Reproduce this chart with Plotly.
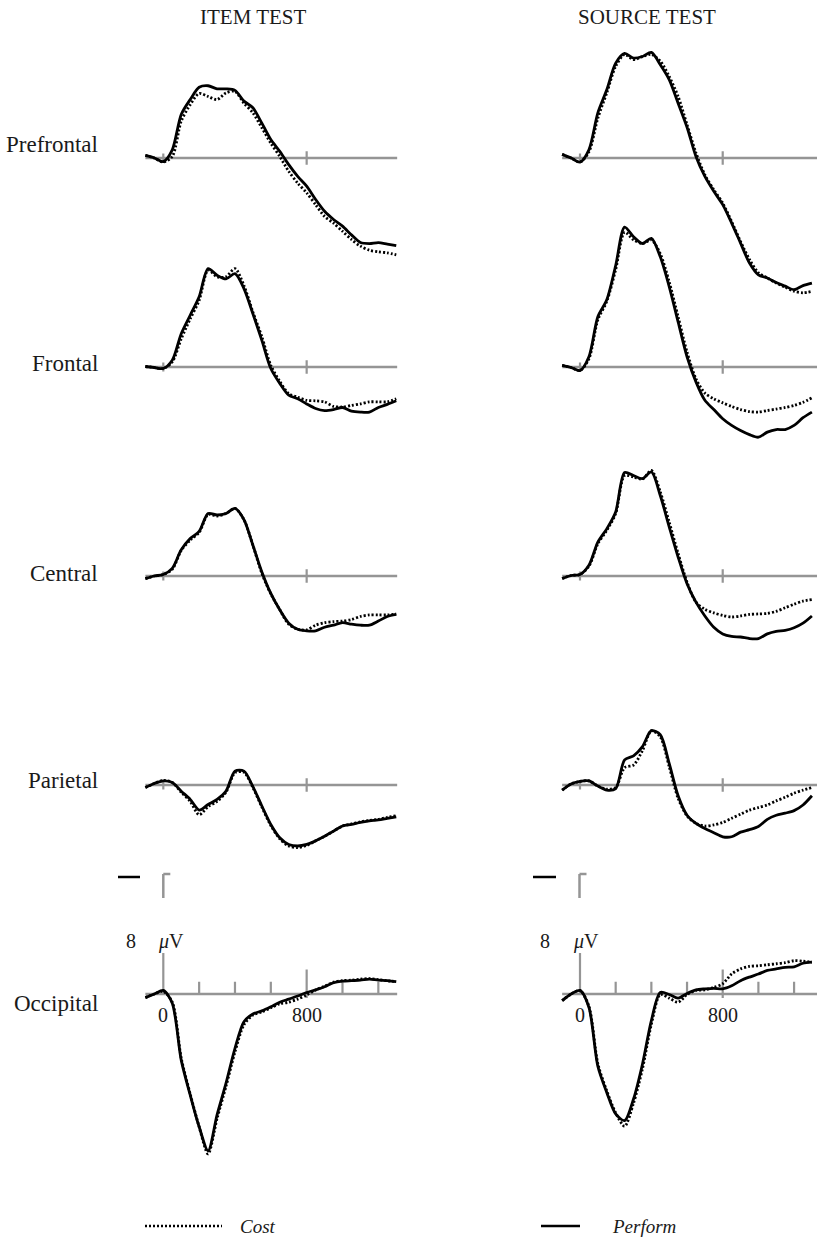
import plotly.graph_objects as go

W, H = 817, 1243

# ---------------- data (µV) ----------------
times = list(range(-100, 1301, 50))  # ms

item_prefrontal_cost = [0.5, 0, -0.8, 0.3, 7.2, 10.4, 12.6, 12.0, 11.4, 12.7, 13.0, 10.7, 8.8, 5.9, 2.9, 0.3,
                        -2.6, -4.9, -6.8, -9.1, -11.4, -12.7, -14.3, -15.9, -17.2, -18.0, -18.3, -18.5, -18.9]
item_prefrontal_perform = [0.5, 0, -0.7, 1.6, 8.5, 11.4, 13.8, 14.1, 13.5, 13.5, 13.2, 11.1, 9.8, 6.8, 3.6, 1.3,
                           -1.3, -3.6, -5.5, -8.1, -10.4, -12.0, -13.3, -15.0, -16.5, -16.7, -16.5, -16.8, -17.1]
item_frontal_cost = [0.1, -0.1, -0.3, 1.0, 5.5, 9.4, 13.0, 18.9, 17.6, 17.6, 19.2, 15.9, 10.7, 5.9, 0.3, -2.8,
                     -5.2, -5.9, -6.5, -6.6, -6.8, -7.7, -7.8, -7.5, -7.2, -6.8, -6.8, -6.8, -6.2]
item_frontal_perform = [0.1, -0.1, -0.3, 1.3, 6.5, 10.1, 13.7, 19.2, 17.9, 17.2, 18.2, 15.3, 10.4, 5.2, -0.3, -3.2,
                        -5.5, -6.2, -7.2, -8.1, -8.5, -8.3, -7.9, -8.6, -8.8, -8.8, -7.9, -7.3, -6.6]
item_central_cost = [-0.5, 0, 0.3, 1.3, 5.0, 7.0, 8.5, 12.0, 11.7, 12.2, 13.2, 11.0, 6.0, 0.5, -3.5, -6.6,
                     -9.4, -10.4, -10.5, -9.6, -9.1, -8.9, -8.8, -8.5, -7.9, -7.6, -7.6, -7.6, -7.4]
item_central_perform = [-0.5, 0, 0.3, 1.5, 5.1, 7.3, 8.7, 12.2, 11.9, 12.2, 13.2, 11.0, 6.0, 0.8, -3.4, -6.6,
                        -9.2, -10.4, -10.7, -10.7, -10.0, -9.6, -9.1, -9.4, -9.6, -9.6, -8.8, -7.9, -7.5]
item_parietal_cost = [-0.5, 0.3, 0.9, 0.5, -1.4, -3.2, -5.8, -4.2, -3.2, -1.4, 2.4, 2.5, -0.5, -4.3, -7.9, -10.5,
                      -11.9, -12.2, -11.8, -10.9, -10.0, -9.0, -8.0, -7.6, -7.2, -6.9, -6.7, -6.3, -6.0]
item_parietal_perform = [-0.5, 0.3, 0.8, 0.5, -1.2, -2.8, -4.9, -3.8, -2.8, -1.2, 2.7, 2.7, -0.3, -4.1, -7.7, -10.3,
                         -11.6, -11.9, -11.6, -10.9, -10.0, -9.0, -8.0, -7.7, -7.3, -7.0, -6.8, -6.5, -6.2]
item_occipital_cost = [-0.7, 0, 0.5, -1.6, -12.5, -19.5, -25.9, -31.2, -24.3, -18.0, -11.3, -6.0, -4.1, -3.5, -2.7, -1.9,
                       -1.6, -1.0, -0.2, 0.8, 1.5, 2.3, 2.6, 2.7, 2.9, 3.0, 2.8, 2.6, 2.4]
item_occipital_perform = [-0.7, 0, 0.7, -1.8, -12.9, -19.7, -25.9, -30.6, -23.6, -17.4, -10.6, -5.4, -3.9, -3.3, -2.5, -1.6,
                          -1.0, -0.4, 0.3, 0.8, 1.4, 2.2, 2.5, 2.6, 2.7, 2.9, 2.7, 2.6, 2.4]

source_prefrontal_cost = [0.7, 0, -0.8, 1.2, 7.8, 12.7, 17.9, 20.2, 19.2, 19.8, 20.2, 18.9, 15.9, 12.0, 6.5, 1.0,
                          -3.3, -6.2, -8.8, -12.4, -16.3, -19.8, -22.4, -23.4, -24.4, -25.2, -26.0, -26.3, -26.0]
source_prefrontal_perform = [0.7, 0, -0.8, 1.6, 8.8, 13.3, 18.5, 20.4, 19.5, 19.8, 20.6, 18.2, 15.3, 10.7, 6.0, 0.3,
                             -3.6, -6.5, -9.1, -12.7, -16.6, -20.5, -22.8, -23.4, -24.3, -25.0, -25.7, -24.9, -24.4]
source_frontal_cost = [0.3, -0.1, -0.7, 1.6, 9.2, 12.8, 19.0, 26.3, 24.8, 24.1, 24.8, 22.1, 16.6, 9.8, 2.9, -2.3,
                       -5.1, -6.2, -7.0, -7.7, -8.3, -8.7, -8.8, -8.5, -8.2, -7.9, -7.5, -6.9, -6.0]
source_frontal_perform = [0.3, -0.1, -0.7, 2.0, 9.8, 13.1, 19.8, 27.3, 25.4, 24.1, 25.1, 21.5, 15.7, 8.8, 2.0, -2.9,
                          -6.5, -8.3, -10.1, -11.4, -12.4, -13.2, -13.7, -12.7, -12.2, -12.2, -11.4, -9.9, -8.8]
source_central_cost = [-0.5, 0.1, 0.3, 1.9, 6.3, 8.9, 12.2, 19.6, 19.3, 18.9, 20.6, 16.4, 10.5, 4.4, -1.2, -5.1,
                       -6.5, -7.2, -7.7, -8.0, -7.8, -7.5, -7.4, -7.3, -6.9, -6.2, -5.5, -4.9, -4.6]
source_central_perform = [-0.5, 0.1, 0.3, 2.1, 6.6, 9.2, 12.5, 20.2, 19.6, 19.0, 20.3, 15.7, 9.6, 3.7, -1.5, -5.1,
                          -7.8, -10.0, -11.3, -11.8, -11.9, -12.2, -12.2, -11.3, -10.8, -10.6, -10.1, -9.2, -7.8]
source_parietal_cost = [-1.0, 0.2, 0.7, 0.8, -0.2, -0.8, -0.5, 3.4, 3.9, 6.7, 10.6, 9.4, 3.6, -2.6, -6.0, -7.5,
                        -8.0, -7.8, -7.3, -6.5, -5.7, -4.9, -4.4, -3.9, -3.1, -2.4, -1.6, -1.0, -0.5]
source_parietal_perform = [-1.0, 0.2, 0.7, 0.8, -0.2, -1.0, -0.7, 4.9, 5.7, 7.5, 10.6, 9.8, 4.2, -2.1, -5.9, -7.5,
                           -8.5, -9.3, -10.1, -10.1, -9.2, -8.7, -8.1, -6.7, -5.9, -5.5, -5.0, -3.9, -2.1]
source_occipital_cost = [-1.3, 0, 0.7, -2.4, -13.6, -18.9, -23.2, -25.8, -21.3, -14.6, -5.9, -0.1, -0.8, -1.6, -0.1, 0.7,
                         0.8, 1.3, 2.0, 3.9, 4.9, 5.4, 5.5, 5.7, 5.9, 6.1, 6.5, 6.4, 6.2]
source_occipital_perform = [-1.3, 0, 0.7, -2.6, -14.1, -19.2, -23.4, -24.7, -20.5, -13.7, -5.2, 0.3, -0.1, -0.8, 0.1, 0.8,
                            1.0, 1.1, 1.0, 1.6, 2.6, 3.3, 3.9, 4.6, 4.9, 5.2, 5.3, 6.0, 6.2]

regions = ["Prefrontal", "Frontal", "Central", "Parietal", "Occipital"]
tests = ["ITEM TEST", "SOURCE TEST"]
series_names = ["Cost", "Perform"]
major_ticks = [0, 800]
major_tick_labels = ["0", "800"]
minor_ticks = [200, 400, 600, 1000, 1200]
scale_uv = 8
scale_label = "8"
scale_unit = "<i>μ</i>V"

panel_data = {
    (0, 0): (item_prefrontal_cost, item_prefrontal_perform),
    (0, 1): (item_frontal_cost, item_frontal_perform),
    (0, 2): (item_central_cost, item_central_perform),
    (0, 3): (item_parietal_cost, item_parietal_perform),
    (0, 4): (item_occipital_cost, item_occipital_perform),
    (1, 0): (source_prefrontal_cost, source_prefrontal_perform),
    (1, 1): (source_frontal_cost, source_frontal_perform),
    (1, 2): (source_central_cost, source_central_perform),
    (1, 3): (source_parietal_cost, source_parietal_perform),
    (1, 4): (source_occipital_cost, source_occipital_perform),
}

# ---------------- geometry (pixels) ----------------
col_zero_px = [163.3, 580.0]
col_px_per_ms = [0.1792, 0.1784]
row_base_px = [158, 367, 576, 785, 994]
px_per_uv = 5.125
y_lo, y_hi = -34, 30
t_lo = -150
baseline_end = [1305, 1340]

GRAY = "#959595"
SERIF = "Liberation Serif, Times New Roman, serif"
LW = 2.8


def fx(px):
    return px / W


def fy(px):
    return 1 - px / H


fig = go.Figure()
layout = dict(
    width=W, height=H, margin=dict(l=0, r=0, t=0, b=0),
    paper_bgcolor="white", plot_bgcolor="rgba(0,0,0,0)",
    showlegend=False,
)
shapes = []
annotations = []

idx = 0
for c in range(2):
    z, k = col_zero_px[c], col_px_per_ms[c]
    x0px = z + t_lo * k
    if c == 0:
        t_hi = 1350
        x1px = z + t_hi * k
    else:
        x1px = W
        t_hi = (W - z) / k
    for r in range(5):
        idx += 1
        sfx = "" if idx == 1 else str(idx)
        base = row_base_px[r]
        top_px = base - y_hi * px_per_uv
        bot_px = base - y_lo * px_per_uv
        layout["xaxis" + sfx] = dict(domain=[fx(x0px), min(1.0, fx(x1px))], range=[t_lo, t_hi],
                                     visible=False, anchor="y" + sfx, fixedrange=True)
        layout["yaxis" + sfx] = dict(domain=[fy(bot_px), fy(top_px)], range=[y_lo, y_hi],
                                     visible=False, anchor="x" + sfx, fixedrange=True)
        xr, yr = "x" + sfx, "y" + sfx

        # baseline
        shapes.append(dict(type="line", xref=xr, yref=yr, x0=times[0], x1=baseline_end[c], y0=0, y1=0,
                           line=dict(color=GRAY, width=2.5), layer="below"))
        if r < 4:
            for t, h in zip(major_ticks, [0.9, 1.3]):
                shapes.append(dict(type="line", xref=xr, yref=yr, x0=t, x1=t, y0=-h, y1=h,
                                   line=dict(color=GRAY, width=2.2), layer="below"))
        else:
            shapes.append(dict(type="line", xref=xr, yref=yr, x0=0, x1=0, y0=0, y1=scale_uv,
                               line=dict(color=GRAY, width=2.2), layer="below"))
            shapes.append(dict(type="line", xref=xr, yref=yr, x0=800, x1=800, y0=-0.8, y1=4.8,
                               line=dict(color=GRAY, width=2.2), layer="below"))
            for t in minor_ticks:
                shapes.append(dict(type="line", xref=xr, yref=yr, x0=t, x1=t, y0=0, y1=2.4,
                                   line=dict(color=GRAY, width=2.2), layer="below"))
            for t, lab in zip(major_ticks, major_tick_labels):
                annotations.append(dict(x=t, y=-4.1, xref=xr, yref=yr, text=lab, showarrow=False,
                                        xanchor="center", yanchor="middle",
                                        font=dict(family=SERIF, size=20, color="#1a1a1a")))

        cost, perf = panel_data[(c, r)]
        fig.add_trace(go.Scatter(x=times, y=cost, xaxis=xr, yaxis=yr, mode="lines", name=series_names[0],
                                 line=dict(color="black", width=LW, dash="2px,2px", shape="spline", smoothing=0.8),
                                 hoverinfo="skip"))
        fig.add_trace(go.Scatter(x=times, y=perf, xaxis=xr, yaxis=yr, mode="lines", name=series_names[1],
                                 line=dict(color="black", width=LW, shape="spline", smoothing=0.8),
                                 hoverinfo="skip"))

# scale marker and "8 µV" labels (paper coords)
for c, (dash_x0, dash_x1, bar_x, s8_x, uv_x) in enumerate([(118, 140, 163.3, 131, 171),
                                                            (533, 556, 579.5, 545, 586)]):
    shapes.append(dict(type="line", xref="paper", yref="paper", x0=fx(dash_x0), x1=fx(dash_x1),
                       y0=fy(877), y1=fy(877), line=dict(color="black", width=2.5)))
    shapes.append(dict(type="line", xref="paper", yref="paper", x0=fx(bar_x), x1=fx(bar_x),
                       y0=fy(874), y1=fy(898), line=dict(color=GRAY, width=2.5)))
    shapes.append(dict(type="line", xref="paper", yref="paper", x0=fx(bar_x), x1=fx(bar_x + 7),
                       y0=fy(874), y1=fy(874), line=dict(color=GRAY, width=2.5)))
    annotations.append(dict(x=fx(s8_x), y=fy(941), xref="paper", yref="paper", text=scale_label,
                            showarrow=False, xanchor="center", yanchor="middle",
                            font=dict(family=SERIF, size=20, color="#1a1a1a")))
    annotations.append(dict(x=fx(uv_x), y=fy(941), xref="paper", yref="paper", text=scale_unit,
                            showarrow=False, xanchor="center", yanchor="middle",
                            font=dict(family=SERIF, size=20, color="#1a1a1a")))

# titles
for title, cx in zip(tests, [253, 647]):
    annotations.append(dict(x=fx(cx), y=fy(17), xref="paper", yref="paper", text=title, showarrow=False,
                            xanchor="center", yanchor="middle",
                            font=dict(family=SERIF, size=21, color="#1a1a1a")))

# row labels
for name, cy in zip(regions, [145, 363, 573, 780, 1003]):
    annotations.append(dict(x=fx(100), y=fy(cy), xref="paper", yref="paper", text=name, showarrow=False,
                            xanchor="right", yanchor="middle",
                            font=dict(family=SERIF, size=23, color="#1a1a1a")))

# legend
shapes.append(dict(type="line", xref="paper", yref="paper", x0=fx(145), x1=fx(222), y0=fy(1226), y1=fy(1226),
                   line=dict(color="black", width=2.5, dash="2px,2px")))
shapes.append(dict(type="line", xref="paper", yref="paper", x0=fx(541), x1=fx(580), y0=fy(1226), y1=fy(1226),
                   line=dict(color="black", width=2.5)))
for name, lx in zip(series_names, [238, 610]):
    annotations.append(dict(x=fx(lx), y=fy(1226), xref="paper", yref="paper", text="<i>" + name + "</i>",
                            showarrow=False, xanchor="left", yanchor="middle",
                            font=dict(family=SERIF, size=19, color="#1a1a1a")))

layout["shapes"] = shapes
layout["annotations"] = annotations
fig.update_layout(**layout)
fig.write_html("out.html")
